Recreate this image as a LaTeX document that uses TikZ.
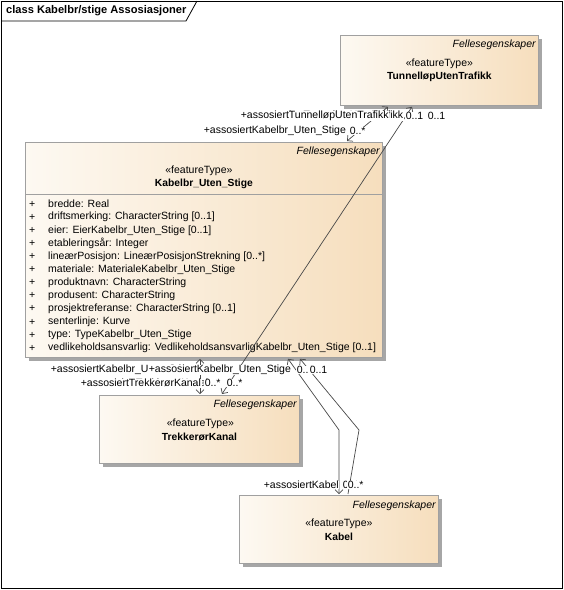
\documentclass[tikz,border=0pt]{standalone}
\usepackage{fontspec}
\setmainfont{Liberation Sans}
\usetikzlibrary{arrows.meta,shadows,calc}
\definecolor{cl}{HTML}{FDF9F2}
\definecolor{cr}{HTML}{F6DEBD}
\definecolor{bd}{HTML}{A0A0A0}
\definecolor{ln}{HTML}{484848}
\begin{document}
\begin{tikzpicture}[x=1pt,y=-1pt,font=\fontsize{10.5}{12}\selectfont,
  cls/.style={draw=bd,line width=0.8pt,left color=cl,right color=cr,anchor=north west,inner sep=0pt,
    drop shadow={shadow xshift=4pt,shadow yshift=-4pt,fill=black!35,opacity=1}},
  fell/.style={anchor=east,inner sep=0pt,font=\fontsize{10.5}{12}\selectfont\itshape},
  stereo/.style={anchor=center,inner sep=0pt},
  cname/.style={anchor=center,inner sep=0pt,font=\fontsize{10.3}{12}\selectfont\bfseries},
  attr/.style={anchor=west,inner sep=0pt},
  conn/.style={draw=ln,line width=0.7pt},
  nav/.style={{Straight Barb[length=4pt,width=8pt]}-{Straight Barb[length=4pt,width=8pt]}},
  lab/.style={fill=white,inner sep=0.6pt,anchor=west},
  labe/.style={fill=white,inner sep=0.6pt,anchor=east}]
\useasboundingbox (0,0) rectangle (564,590);
% frame
\draw[black,line width=0.8pt] (1,1) rectangle (562,588);
\draw[black,line width=0.8pt] (1,21) -- (186,21) -- (197,1);
\node[anchor=west,inner sep=0pt,font=\fontsize{11.1}{13}\selectfont\bfseries] (title) at (6,11) {class Kabelbr/stige Assosiasjoner};

% classes
\node[cls,minimum width=198pt,minimum height=70pt] (tun) at (340,35) {};
\node[cls,minimum width=357pt,minimum height=215pt] (kab) at (25,142) {};
\node[cls,minimum width=200pt,minimum height=68pt] (trk) at (99,395) {};
\node[cls,minimum width=199pt,minimum height=68pt] (kbl) at (239,495) {};

% Tunnel
\node[fell] (tunF) at ($(tun.north east)+(-3,9.5)$) {Fellesegenskaper};
\node[stereo] (tunS) at ($(tun.north)+(0,29)$) {«featureType»};
\node[cname] (tunN) at ($(tun.north)+(0,42)$) {TunnelløpUtenTrafikk};

% Kabelbr
\node[fell] (kabF) at ($(kab.north east)+(-3,9.5)$) {Fellesegenskaper};
\node[stereo] (kabS) at ($(kab.north)+(-5,28.5)$) {«featureType»};
\node[cname] (kabN) at ($(kab.north)+(0,41.5)$) {Kabelbr\_Uten\_Stige};
\draw[bd,line width=0.8pt] (25,194) -- (382,194);
\foreach \t [count=\i] in {{bredde: Real},{driftsmerking: CharacterString [0..1]},{eier: EierKabelbr\_Uten\_Stige [0..1]},{etableringsår: Integer},{lineærPosisjon: LineærPosisjonStrekning [0..*]},{materiale: MaterialeKabelbr\_Uten\_Stige},{produktnavn: CharacterString},{produsent: CharacterString},{prosjektreferanse: CharacterString [0..1]},{senterlinje: Kurve},{type: TypeKabelbr\_Uten\_Stige},{vedlikeholdsansvarlig: VedlikeholdsansvarligKabelbr\_Uten\_Stige [0..1]}}{
  \node[attr] (p\i) at (29,{191+13.1*\i}) {+};
  \node[attr] (a\i) at (48,{191+13.1*\i}) {\t};
}

% Trekkeror
\node[fell] (trkF) at ($(trk.north east)+(-3,10)$) {Fellesegenskaper};
\node[stereo] (trkS) at ($(trk.north)+(1,28.5)$) {«featureType»};
\node[cname] (trkN) at ($(trk.north)+(0,41.5)$) {TrekkerørKanal};

% Kabel
\node[fell] (kblF) at ($(kbl.north east)+(-3,10.5)$) {Fellesegenskaper};
\node[stereo] (kblS) at ($(kbl.north)+(0,28.5)$) {«featureType»};
\node[cname] (kblN) at ($(kbl.north)+(0,41.5)$) {Kabel};

% connector end points
\coordinate (t1) at ($(tun.south west)+(48,1)$);
\coordinate (k1) at ($(kab.north west)+(322,-1)$);
\coordinate (t2) at ($(tun.south west)+(72,1)$);
\coordinate (r2) at ($(trk.north west)+(123,-1)$);
\coordinate (k3) at ($(kab.south west)+(175,1)$);
\coordinate (r3) at ($(trk.north west)+(101,-1)$);
\coordinate (k4) at ($(kab.south west)+(263,1)$);
\coordinate (b4) at (339,430);
\coordinate (c4) at ($(kbl.north west)+(100,-1)$);
\coordinate (k5) at ($(kab.south west)+(275,1)$);
\coordinate (b5) at (359,430);
\coordinate (c5) at ($(kbl.north west)+(109,-1)$);

\draw[conn,nav] (t1) -- (k1);
\draw[conn,nav] (t2) -- (r2);
\draw[conn,nav] (k3) -- (r3);
\draw[conn,nav] (k4) -- (b4) -- (c4);
\draw[conn,{Straight Barb[length=4pt,width=8pt]}-] (k5) -- (b5) -- (c5);

% labels
\node[labe] (l1h) at (404,116) {+assosiertTunnelløpUtenTrafikk};
\node[lab] (l1) at (240,116) {+assosiertTunnelløpUtenTrafikk};
\node[lab] (m1) at (405,116) {0..1};
\node[lab] (m2) at (427,116) {0..1};
\node[lab] (l2) at (203,131) {+assosiertKabelbr\_Uten\_Stige};
\node[lab] (m3) at (349,131) {0..*};

\node[lab] (l3h) at (50,370) {+assosiertKabelbr\_Uten\_Stige};
\node[lab] (l3) at (148,370) {+assosiertKabelbr\_Uten\_Stige};
\node[lab] (m4) at (296,370) {0..1};
\node[lab] (m5) at (309,370) {0..1};

\node[labe] (l4h) at (209,383) {+assosiertTrekkerørKanal};
\node[lab] (l4) at (80,383) {+assosiertTrekkerørKanal};
\node[lab] (m6) at (204,383) {0..*};
\node[lab] (m7) at (226,383) {0..*};

\node[lab] (l5) at (263,485) {+assosiertKabel};
\node[lab] (m8) at (342,485) {0..*};
\node[lab] (m9) at (347,485) {0..*};
\end{tikzpicture}
\end{document}
